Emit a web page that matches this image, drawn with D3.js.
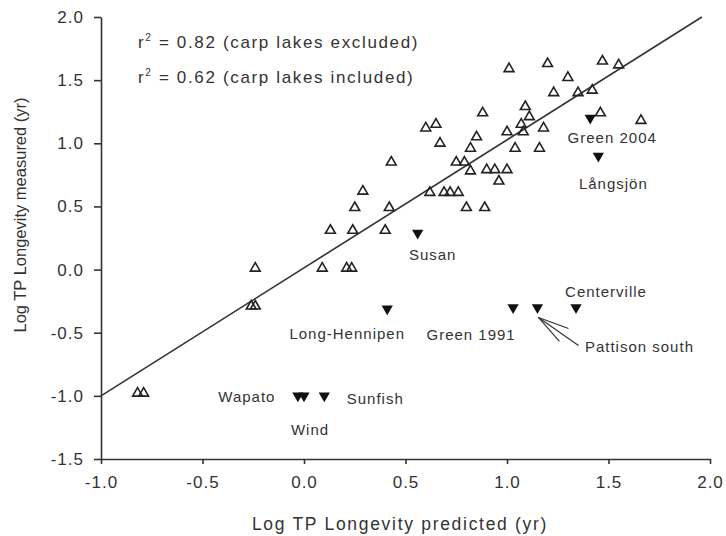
<!DOCTYPE html>
<html>
<head>
<meta charset="utf-8">
<script src="https://cdn.jsdelivr.net/npm/d3@7"></script>
<style>
  body { margin: 0; background: #fff; }
  svg text { font-family: 'Liberation Sans', Arial, sans-serif; fill: #333; }
  .axis path, .axis line { stroke: #333; stroke-width: 1.6; }
  .axis text { font-size: 17px; letter-spacing: 1px; fill: #333; }
</style>
</head>
<body>
<div id="chart"></div>
<script>
// SVG dimensions
var w = 726;
var h = 536;

// Lakes without carp (open triangles): predicted, measured
var openX = [1.01, 1.20, 1.47, 1.55, 1.30, 1.23, 1.35, 1.42, 1.09, 0.88,
  1.11, 0.60, 0.65, 1.07, 1.00, 1.08, 1.18, 1.46, 1.66, 0.67,
  0.85, 0.82, 1.04, 1.16, 0.43, 0.75, 0.79, 0.82, 0.90, 0.94,
  1.00, 0.96, 0.62, 0.69, 0.72, 0.76, 0.80, 0.89, 0.42, 0.29,
  0.25, 0.13, 0.24, 0.40, -0.24, 0.09, 0.21, 0.235, -0.26, -0.24,
  -0.82, -0.79];
var openY = [1.59, 1.63, 1.65, 1.62, 1.52, 1.40, 1.40, 1.42, 1.29, 1.24,
  1.21, 1.12, 1.15, 1.15, 1.09, 1.09, 1.12, 1.24, 1.18, 1.00,
  1.05, 0.96, 0.96, 0.96, 0.85, 0.85, 0.85, 0.78, 0.79, 0.79,
  0.79, 0.70, 0.61, 0.61, 0.61, 0.61, 0.49, 0.49, 0.49, 0.62,
  0.49, 0.31, 0.31, 0.31, 0.01, 0.01, 0.01, 0.01, -0.29, -0.29,
  -0.98, -0.98];

// Carp lakes (filled triangles)
var carpNames = ['Green 2004', 'Långsjön', 'Susan', 'Long-Hennipen', 'Green 1991',
  'Pattison south', 'Centerville', 'Wapato', 'Wind', 'Sunfish'];
var carpX = [1.41, 1.45, 0.56, 0.41, 1.03, 1.15, 1.34, -0.03, 0.0, 0.10];
var carpY = [1.20, 0.90, 0.29, -0.31, -0.30, -0.30, -0.30, -1.0, -1.0, -1.0];

// 1:1 line
var lineX = [-1.0, 1.96];
var lineY = [-1.0, 2.0];

var xTicks = [-1.0, -0.5, 0.0, 0.5, 1.0, 1.5, 2.0];
var xTickLabels = ['-1.0', '-0.5', '0.0', '0.5', '1.0', '1.5', '2.0'];
var yTicks = [-1.5, -1.0, -0.5, 0.0, 0.5, 1.0, 1.5, 2.0];
var yTickLabels = ['-1.5', '-1.0', '-0.5', '0.0', '0.5', '1.0', '1.5', '2.0'];

var r2Values = ['0.82', '0.62'];
var r2Notes = ['(carp lakes excluded)', '(carp lakes included)'];

// label placement in pixels relative to the marker
var labelOffsets = {
  'Green 2004': [22, 19],
  'Långsjön': [15, 28],
  'Susan': [15, 22],
  'Long-Hennipen': [-40, 25],
  'Green 1991': [-42, 27],
  'Pattison south': [102, 39],
  'Centerville': [30, -16],
  'Wapato': [-51, 1],
  'Wind': [6, 34],
  'Sunfish': [51, 3]
};

var svg = d3.select('#chart')
  .append('svg')
  .attr('width', w)
  .attr('height', h);

// Scales
var xScale = d3.scaleLinear().domain([-1, 2]).range([101, 710]);
var yScale = d3.scaleLinear().domain([-1.5, 2]).range([459, 17]);

// Axes
var xAxis = d3.axisBottom(xScale)
  .tickValues(xTicks)
  .tickSizeInner(5)
  .tickSizeOuter(0)
  .tickPadding(12)
  .tickFormat((d, i) => xTickLabels[i]);

svg.append('g')
  .attr('class', 'axis')
  .attr('transform', `translate(0, ${yScale(-1.5)})`)
  .call(xAxis);

var yAxis = d3.axisLeft(yScale)
  .tickValues(yTicks)
  .tickSizeInner(7)
  .tickSizeOuter(0)
  .tickPadding(10)
  .tickFormat((d, i) => yTickLabels[i]);

svg.append('g')
  .attr('class', 'axis')
  .attr('transform', `translate(${xScale(-1)}, 0)`)
  .call(yAxis);

// Axis titles
svg.append('text')
  .attr('x', 400)
  .attr('y', 530)
  .attr('text-anchor', 'middle')
  .attr('font-size', 17.5)
  .attr('letter-spacing', 1.7)
  .text('Log TP Longevity predicted (yr)');

svg.append('text')
  .attr('transform', 'translate(26, 215) rotate(-90)')
  .attr('text-anchor', 'middle')
  .attr('font-size', 16.5)
  .text('Log TP Longevity measured (yr)');

// 1:1 line
var line = d3.line()
  .x(d => xScale(d[0]))
  .y(d => yScale(d[1]));

svg.append('path')
  .datum(d3.zip(lineX, lineY))
  .attr('d', line)
  .attr('fill', 'none')
  .attr('stroke', '#333')
  .attr('stroke-width', 1.6);

// r2 annotations
r2Values.forEach((v, i) => {
  var t = svg.append('text')
    .attr('x', 138)
    .attr('y', 48 + i * 35)
    .attr('font-size', 17)
    .attr('letter-spacing', 1.65);
  t.append('tspan').text('r');
  t.append('tspan').attr('dy', -7).attr('font-size', 10).text('2');
  t.append('tspan').attr('dy', 7).text(` = ${v} ${r2Notes[i]}`);
});

// Open triangles
var triUp = d3.symbol().type(d3.symbolTriangle).size(42);

svg.append('g')
  .selectAll('path')
  .data(d3.zip(openX, openY))
  .enter()
  .append('path')
  .attr('d', triUp)
  .attr('transform', d => `translate(${xScale(d[0])}, ${yScale(d[1])})`)
  .attr('fill', 'none')
  .attr('stroke', '#222')
  .attr('stroke-width', 1.6);

// Carp lakes: filled, pointing down
var carp = carpNames.map((n, i) => ({ name: n, x: carpX[i], y: carpY[i] }));

svg.append('g')
  .selectAll('path')
  .data(carp)
  .enter()
  .append('path')
  .attr('d', d3.symbol().type(d3.symbolTriangle).size(55))
  .attr('transform', d => `translate(${xScale(d.x)}, ${yScale(d.y)}) rotate(180)`)
  .attr('fill', '#111');

svg.append('g')
  .selectAll('text')
  .data(carp)
  .enter()
  .append('text')
  .attr('x', d => xScale(d.x) + labelOffsets[d.name][0])
  .attr('y', d => yScale(d.y) + labelOffsets[d.name][1])
  .attr('text-anchor', 'middle')
  .attr('dominant-baseline', 'central')
  .attr('font-size', 15)
  .attr('letter-spacing', 1)
  .text(d => d.name);

// Arrow to Pattison south
var ps = carp.find(d => d.name === 'Pattison south');
var px = xScale(ps.x);
var py = yScale(ps.y);
var arrow = svg.append('g')
  .attr('stroke', '#333')
  .attr('stroke-width', 1.2)
  .attr('fill', 'none');
[[41, 38], [31, 21], [22, 34]].forEach(e => {
  arrow.append('line')
    .attr('x1', px + 1)
    .attr('y1', py + 10)
    .attr('x2', px + e[0])
    .attr('y2', py + e[1]);
});
</script>
</body>
</html>
